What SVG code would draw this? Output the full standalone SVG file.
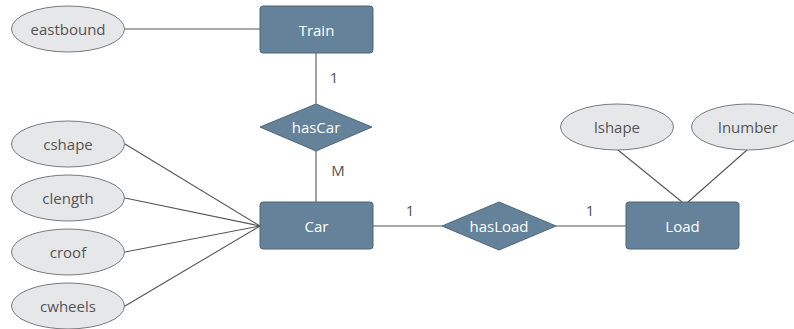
<svg xmlns="http://www.w3.org/2000/svg" width="794" height="329" viewBox="0 0 794 329">
<style>
.ent{fill:#648299;stroke:#4d677c;stroke-width:1}
.att{fill:#e6e7e9;stroke:#7a7a7a;stroke-width:1}
.ln{stroke:#555;stroke-width:1.1;fill:none}
.t{font-family:"Open Sans","Liberation Sans",sans-serif;font-size:15px;text-anchor:middle;dominant-baseline:central}
.tw{fill:#fff}
.tg{fill:#555}
</style>
<rect width="794" height="329" fill="#fff"/>
<g id="connectors">
<line class="ln" x1="125" y1="29" x2="260" y2="29"/>
<line class="ln" x1="316" y1="53" x2="316" y2="104"/>
<line class="ln" x1="316" y1="151" x2="316" y2="202"/>
<line class="ln" x1="125" y1="144" x2="260" y2="226"/>
<line class="ln" x1="125" y1="198" x2="260" y2="226"/>
<line class="ln" x1="125" y1="252" x2="260" y2="226"/>
<line class="ln" x1="125" y1="306" x2="260" y2="226"/>
<line class="ln" x1="373" y1="226" x2="442" y2="226"/>
<line class="ln" x1="556" y1="226" x2="626" y2="226"/>
<line class="ln" x1="618" y1="150" x2="682" y2="202"/>
<line class="ln" x1="747" y1="150" x2="688" y2="202"/>
<text class="t tg" x="334" y="77">1</text>
<text class="t tg" x="338" y="170">M</text>
<text class="t tg" x="410" y="210">1</text>
<text class="t tg" x="590" y="210">1</text>
</g>
<g id="eastbound"><ellipse class="att" cx="68" cy="29" rx="56.5" ry="23"/><text class="t tg" x="68" y="29">eastbound</text></g>
<g id="Train"><rect class="ent" x="260" y="6" width="113" height="47" rx="3"/><text class="t tw" x="316.5" y="29.5">Train</text></g>
<g id="hasCar"><path class="ent" d="M316,104 L372,127 L316,151 L260,127 Z" stroke-linejoin="round"/><text class="t tw" x="316" y="127">hasCar</text></g>
<g id="Car"><rect class="ent" x="260" y="202" width="113" height="47" rx="3"/><text class="t tw" x="316.5" y="225.5">Car</text></g>
<g id="cshape"><ellipse class="att" cx="68" cy="144" rx="56.5" ry="23"/><text class="t tg" x="68" y="144">cshape</text></g>
<g id="clength"><ellipse class="att" cx="68" cy="198" rx="56.5" ry="23"/><text class="t tg" x="68" y="198">clength</text></g>
<g id="croof"><ellipse class="att" cx="68" cy="252" rx="56.5" ry="23"/><text class="t tg" x="68" y="252">croof</text></g>
<g id="cwheels"><ellipse class="att" cx="68" cy="306" rx="56.5" ry="23"/><text class="t tg" x="68" y="306">cwheels</text></g>
<g id="hasLoad"><path class="ent" d="M499,202 L556,226 L499,250 L442,226 Z" stroke-linejoin="round"/><text class="t tw" x="499" y="226">hasLoad</text></g>
<g id="Load"><rect class="ent" x="626" y="202" width="113" height="47" rx="3"/><text class="t tw" x="682.5" y="225.5">Load</text></g>
<g id="lshape"><ellipse class="att" cx="617" cy="127" rx="56.5" ry="23"/><text class="t tg" x="617" y="127">lshape</text></g>
<g id="lnumber"><ellipse class="att" cx="748" cy="127" rx="56.5" ry="23"/><text class="t tg" x="748" y="127">lnumber</text></g>
</svg>
